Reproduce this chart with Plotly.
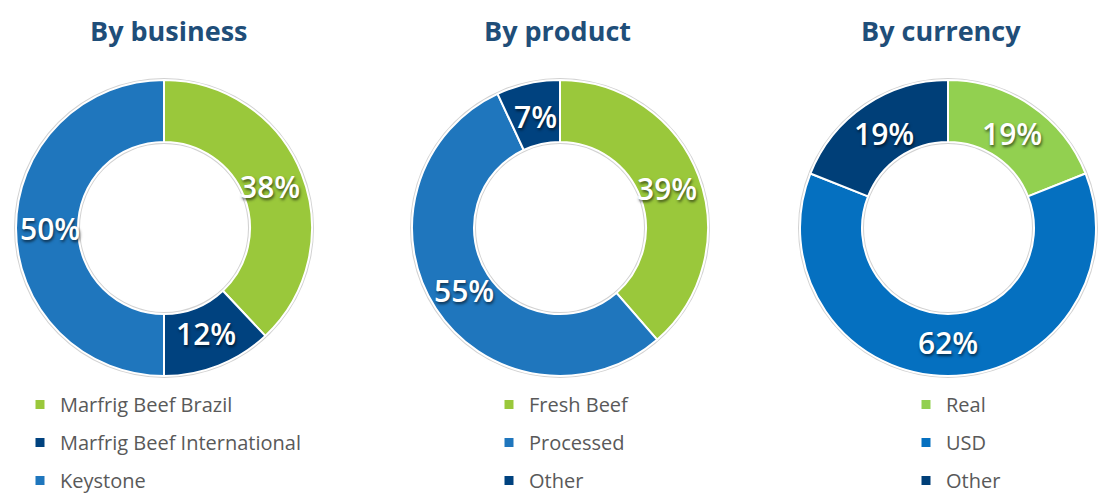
import math
import plotly.graph_objects as go

W, H = 1098, 495

# Data
business_labels = ["Marfrig Beef Brazil", "Marfrig Beef International", "Keystone"]
business_values = [38, 12, 50]
product_labels = ["Fresh Beef", "Processed", "Other"]
product_values = [39, 55, 7]
currency_labels = ["Real", "USD", "Other"]
currency_values = [19, 62, 19]
titles = ["By business", "By product", "By currency"]

business_colors = ["#9AC83B", "#00427F", "#1F76BD"]
product_colors = ["#9AC83B", "#1F76BD", "#00427F"]
currency_colors = ["#92D050", "#0570C0", "#003F78"]

# pixel layout of each donut: left edge, top edge, diameter; legend left edge; title centre
panels = [
    dict(left=16, top=80, size=296, labels=business_labels, values=business_values,
         colors=business_colors, legend="legend", lx=20, tx=169),
    dict(left=412, top=80, size=296, labels=product_labels, values=product_values,
         colors=product_colors, legend="legend2", lx=489, tx=557),
    dict(left=800, top=80, size=296, labels=currency_labels, values=currency_values,
         colors=currency_colors, legend="legend3", lx=906, tx=941),
]

HOLE_R = 86  # inner radius in px

fig = go.Figure()


def px_domain(left, top, size):
    return dict(x=[max(0, left / W), min(1, (left + size) / W)],
                y=[max(0, 1 - (top + size) / H), min(1, 1 - top / H)])


for i, p in enumerate(panels):
    r = p["size"] / 2
    cx = p["left"] + r
    cy = p["top"] + r
    # soft grey rim around the ring
    pad = 2
    fig.add_trace(go.Pie(
        values=[1], labels=[""], marker=dict(colors=["#D2D2D2"], line=dict(width=0)),
        hole=(HOLE_R - pad) / (r + pad), sort=False, textinfo="none", hoverinfo="skip",
        showlegend=False,
        domain=px_domain(p["left"] - pad, p["top"] - pad, p["size"] + 2 * pad),
    ))
    fig.add_trace(go.Pie(
        labels=p["labels"], values=p["values"], sort=False, direction="clockwise",
        rotation=0, hole=HOLE_R / r, textinfo="none",
        hovertemplate="%{label}: %{value}%<extra></extra>",
        marker=dict(colors=p["colors"], line=dict(color="white", width=2)),
        showlegend=False,
        domain=px_domain(p["left"], p["top"], p["size"]),
    ))
    # percentage labels centred on each slice, just inside mid ring radius
    total = sum(p["values"])
    rm = (r + HOLE_R) / 2 - 3
    acc = 0
    for v in p["values"]:
        mid = (acc + v / 2) / total * 2 * math.pi
        acc += v
        fig.add_annotation(
            text=f"{v}%", x=(cx + rm * math.sin(mid)) / W, y=1 - (cy - rm * math.cos(mid)) / H,
            xref="paper", yref="paper", xanchor="center", yanchor="middle", showarrow=False,
            font=dict(family="Open Sans", size=30, weight=600, color="white",
                      shadow="1px 2px 3px rgba(0,0,0,0.6)"),
        )
    # legend entries
    for lab, col in zip(p["labels"], p["colors"]):
        fig.add_trace(go.Scatter(
            x=[None], y=[None], mode="markers", name=lab,
            marker=dict(symbol="square", size=9, color=col),
            legend=p["legend"], legendgroup=f"{i}-{lab}",
        ))
    fig.add_annotation(
        text=f"<b>{titles[i]}</b>", x=p["tx"] / W, y=1 - 31 / H, xref="paper", yref="paper",
        xanchor="center", yanchor="middle", showarrow=False,
        font=dict(family="Open Sans", size=27, color="#1F4E79"),
    )

legend_style = dict(
    orientation="v", xanchor="left", yanchor="top", y=1 - 385 / H,
    font=dict(family="Open Sans", size=20, color="#595959"),
    tracegroupgap=9, bgcolor="rgba(0,0,0,0)", itemclick=False, itemdoubleclick=False,
)
fig.update_layout(
    width=W, height=H, margin=dict(l=0, r=0, t=0, b=0, autoexpand=False),
    paper_bgcolor="white", plot_bgcolor="white",
    xaxis=dict(visible=False), yaxis=dict(visible=False),
    legend=dict(x=panels[0]["lx"] / W, **legend_style),
    legend2=dict(x=panels[1]["lx"] / W, **legend_style),
    legend3=dict(x=panels[2]["lx"] / W, **legend_style),
)

fig.write_html("out.html")
